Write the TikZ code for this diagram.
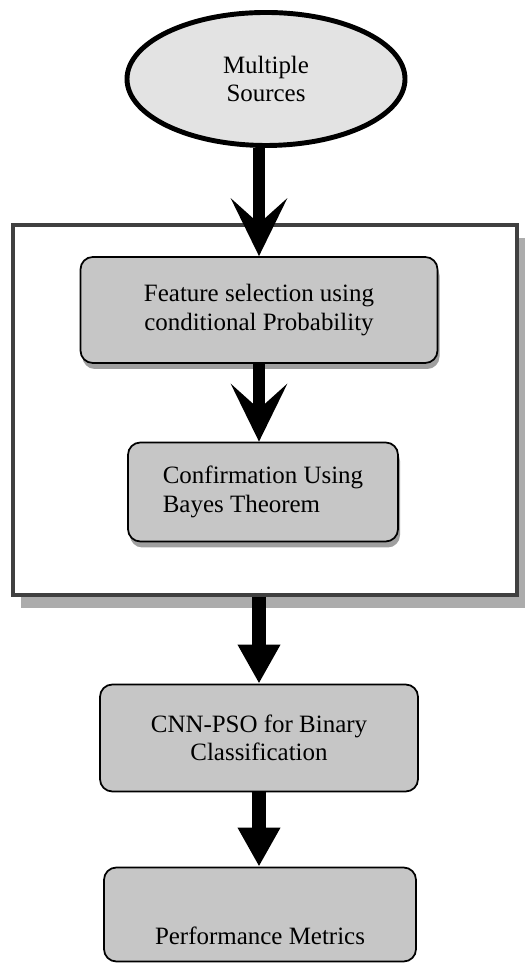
\documentclass[tikz,border=0pt]{standalone}
\usepackage{fontspec}
\setmainfont{Liberation Serif}
\usetikzlibrary{shapes.geometric,shadows,arrows.meta}
\begin{document}
\begin{tikzpicture}[
  font=\fontsize{14.2}{16.3}\selectfont,
  srcnode/.style={ellipse, draw, line width=2.8pt, fill=gray!22,
    minimum width=5.56cm, minimum height=2.66cm, align=center},
  procbox/.style={rectangle, rounded corners=7pt, draw, line width=1pt,
    fill=gray!45, align=center, inner sep=3pt},
  boxshadow/.style={drop shadow={shadow xshift=0.04cm, shadow yshift=-0.12cm,
    fill=gray!75, opacity=1}},
  groupframe/.style={rectangle, draw=black!75, line width=1.8pt, fill=white,
    minimum width=10.08cm, minimum height=7.4cm,
    drop shadow={shadow xshift=0.16cm, shadow yshift=-0.26cm, fill=gray!65, opacity=1}},
  bigarrow/.style={line width=7pt, -{Stealth[length=1.15cm, width=1.12cm, inset=0.5cm]}},
  fatarrow/.style={line width=8pt, -{Triangle[length=0.78cm, width=0.8cm]}},
]
\useasboundingbox (0,0) rectangle (10.62,19.32);
% source
\node[srcnode] (src) at (5.32,17.74) {Multiple\\Sources};
% grouping frame round the two selection steps
\node[groupframe] (grp) at (5.3,11.12) {};
\node[procbox, boxshadow, minimum width=7.14cm, minimum height=2.12cm] (feat) at (5.18,13.12)
  {Feature selection using\\conditional Probability};
\node[procbox, boxshadow, align=left, minimum width=5.4cm, minimum height=1.98cm] (conf) at (5.26,9.48)
  {Confirmation Using\\Bayes Theorem};
% classification and metrics
\node[procbox, minimum width=6.36cm, minimum height=2.14cm] (cnn) at (5.18,4.56)
  {CNN-PSO for Binary\\Classification};
\node[procbox, minimum width=6.24cm, text height=1.42cm, text depth=0.22cm, inner ysep=0.12cm] (perf) at (5.2,1.03)
  {Performance Metrics};
% arrows
\draw[bigarrow] (feat.north |- src.south) -- (feat.north);
\draw[bigarrow] (feat.south) -- (feat.south |- conf.north);
\draw[fatarrow] (cnn.north |- grp.south) -- (cnn.north);
\draw[fatarrow] (cnn.south) -- (cnn.south |- perf.north);
\end{tikzpicture}
\end{document}
